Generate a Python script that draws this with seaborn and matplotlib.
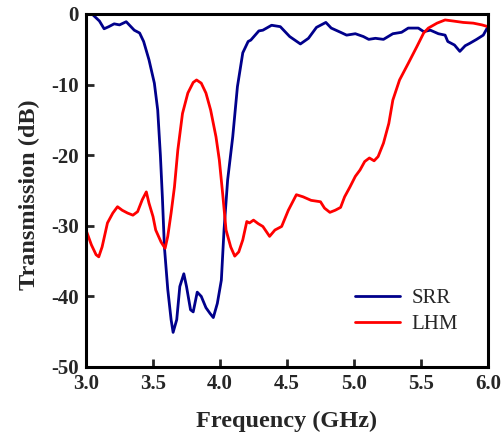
import numpy as np
import pandas as pd
import matplotlib
matplotlib.use("Agg")
import matplotlib.pyplot as plt
import seaborn as sns

srr_freq = [3.00, 3.05, 3.10, 3.135, 3.17, 3.21, 3.25, 3.30, 3.36, 3.40, 3.43, 3.47, 3.51, 3.535,
            3.555, 3.57, 3.585, 3.61, 3.635, 3.65, 3.677, 3.70, 3.73, 3.75, 3.78, 3.80, 3.83, 3.86,
            3.895, 3.925, 3.95, 3.98, 4.01, 4.03, 4.057, 4.095, 4.13, 4.17, 4.21, 4.23, 4.29, 4.32,
            4.385, 4.45, 4.52, 4.60, 4.66, 4.72, 4.79, 4.83, 4.90, 4.945, 5.01, 5.07, 5.11, 5.16,
            5.22, 5.29, 5.355, 5.405, 5.48, 5.52, 5.57, 5.63, 5.68, 5.70, 5.75, 5.79, 5.83, 5.865,
            5.915, 5.965, 6.00]
srr_db = [0.0, -0.1, -1.0, -2.1, -1.8, -1.4, -1.55, -1.1, -2.3, -2.7, -3.9, -6.5, -9.8, -13.6,
          -20.0, -26.0, -33.0, -39.0, -43.3, -45.1, -43.3, -38.6, -36.8, -38.6, -41.9, -42.2, -39.4, -40.0,
          -41.6, -42.4, -43.0, -41.0, -37.7, -30.6, -23.5, -17.4, -10.3, -5.5, -3.9, -3.7, -2.4, -2.3,
          -1.6, -1.8, -3.2, -4.25, -3.45, -1.9, -1.2, -2.0, -2.6, -3.0, -2.8, -3.2, -3.6, -3.45,
          -3.6, -2.8, -2.6, -2.0, -2.0, -2.5, -2.3, -2.8, -3.0, -3.9, -4.4, -5.3, -4.5, -4.15,
          -3.6, -3.0, -1.8]

lhm_freq = [3.00, 3.04, 3.075, 3.095, 3.12, 3.16, 3.20, 3.235, 3.27, 3.31, 3.35, 3.385, 3.42, 3.45,
            3.47, 3.50, 3.52, 3.56, 3.59, 3.61, 3.635, 3.66, 3.685, 3.72, 3.76, 3.80, 3.825, 3.86,
            3.895, 3.93, 3.97, 3.995, 4.02, 4.045, 4.08, 4.11, 4.14, 4.17, 4.20, 4.22, 4.25, 4.285,
            4.32, 4.37, 4.41, 4.46, 4.51, 4.57, 4.62, 4.68, 4.75, 4.78, 4.82, 4.86, 4.90, 4.93,
            4.97, 5.01, 5.045, 5.08, 5.115, 5.15, 5.18, 5.22, 5.26, 5.29, 5.34, 5.405, 5.47, 5.52,
            5.555, 5.62, 5.68, 5.74, 5.815, 5.89, 5.955, 6.00]
lhm_db = [-30.6, -32.7, -34.1, -34.4, -33.0, -29.6, -28.2, -27.3, -27.8, -28.2, -28.5, -28.0, -26.3, -25.2,
          -26.8, -28.7, -30.6, -32.3, -33.2, -31.5, -28.2, -24.5, -19.3, -14.1, -11.2, -9.7, -9.35, -9.8,
          -11.2, -13.6, -17.4, -20.7, -25.5, -30.6, -33.0, -34.3, -33.7, -32.0, -29.4, -29.6, -29.2, -29.7,
          -30.1, -31.5, -30.6, -30.1, -27.8, -25.6, -25.9, -26.4, -26.6, -27.5, -28.1, -27.8, -27.4, -25.9,
          -24.5, -23.0, -22.1, -20.9, -20.4, -20.8, -20.2, -18.3, -15.5, -12.2, -9.35, -7.0, -4.6, -2.7,
          -2.0, -1.3, -0.85, -1.0, -1.2, -1.3, -1.55, -1.8]

series_names = ["SRR", "LHM"]
series_colors = {"SRR": "#00008B", "LHM": "#FF0000"}
x_ticks = [3.0, 3.5, 4.0, 4.5, 5.0, 5.5, 6.0]
y_ticks = [0, -10, -20, -30, -40, -50]

df = pd.concat([
    pd.DataFrame({"Frequency": srr_freq, "Transmission": srr_db, "Sample": "SRR"}),
    pd.DataFrame({"Frequency": lhm_freq, "Transmission": lhm_db, "Sample": "LHM"}),
], ignore_index=True)

sns.set_style("ticks")
plt.rcParams["font.family"] = ["Liberation Serif", "DejaVu Serif"]

fig = plt.figure(figsize=(5.01, 4.36), dpi=100)
ax = fig.add_axes([0.1717, 0.1583, 0.8023, 0.8097])

sns.lineplot(data=df, x="Frequency", y="Transmission", hue="Sample",
             hue_order=series_names, palette=series_colors, sort=False,
             estimator=None, linewidth=2.0, ax=ax)

ax.set_xlim(3.0, 6.0)
ax.set_ylim(-50, 0)
ax.set_xticks(x_ticks)
ax.set_yticks(y_ticks)
ax.set_xticklabels([f"{t:.1f}" for t in x_ticks])
ax.set_yticklabels([str(t) for t in y_ticks])
for lab in ax.get_xticklabels() + ax.get_yticklabels():
    lab.set_fontweight("bold")
    lab.set_fontsize(15)
ax.tick_params(direction="in", length=6, width=2, pad=5, top=False, right=False)

for s in ax.spines.values():
    s.set_visible(True)
    s.set_linewidth(2.2)
    s.set_color("black")

ax.set_xlabel("Frequency (GHz)", fontsize=17.5, fontweight="bold")
ax.set_ylabel("Transmission (dB)", fontsize=17.5, fontweight="bold")
ax.xaxis.set_label_coords(0.5, -0.124)
ax.yaxis.set_label_coords(-0.114, 0.487)

leg = ax.legend(loc="upper left", bbox_to_anchor=(0.648, 0.246), borderaxespad=0,
                frameon=False, fontsize=15, handlelength=2.15, handletextpad=0.58,
                labelspacing=0.3)
for line in leg.get_lines():
    line.set_linewidth(2.0)

fig.savefig("out.png", dpi=100)
